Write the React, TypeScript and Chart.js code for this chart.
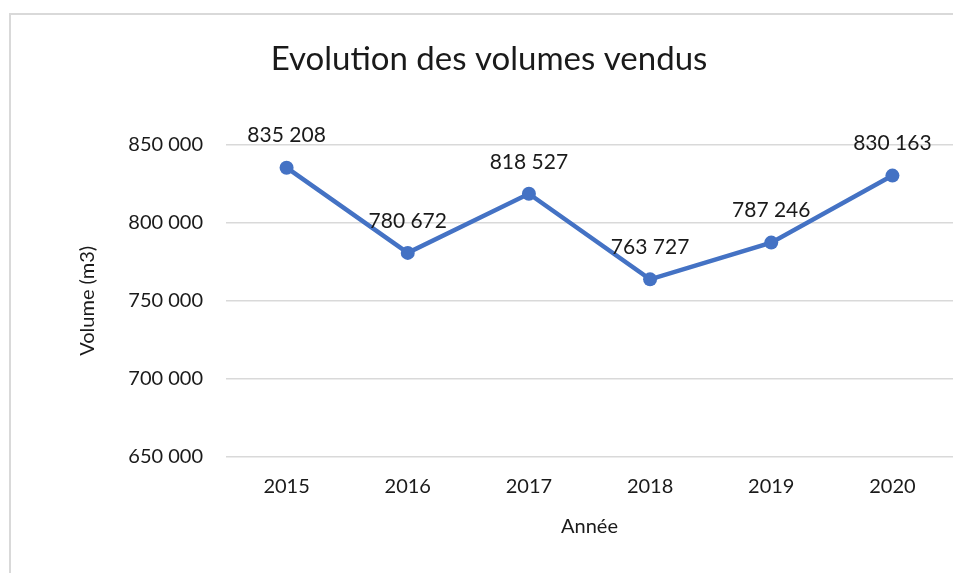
import React, { useEffect, useRef } from "react";
import { Chart, registerables } from "chart.js";

Chart.register(...registerables);

const years = ["2015", "2016", "2017", "2018", "2019", "2020"];
const volumes = [835208, 780672, 818527, 763727, 787246, 830163];
const yMin = 650000;
const yMax = 850000;
const yStep = 50000;
const titleText = "Evolution des volumes vendus";
const xTitle = "Année";
const yTitle = "Volume (m3)";

const FONT = "Lato, 'Open Sans', sans-serif";
const fmt = (v: number) => String(Math.round(v)).replace(/\B(?=(\d{3})+(?!\d))/g, " ");

const dataLabels = {
  id: "dataLabels",
  afterDatasetsDraw(chart: any) {
    const ctx = chart.ctx;
    const meta = chart.getDatasetMeta(0);
    ctx.save();
    ctx.font = `21px ${FONT}`;
    ctx.fillStyle = "#1a1a1a";
    ctx.textAlign = "center";
    ctx.textBaseline = "middle";
    meta.data.forEach((pt: any, i: number) => {
      ctx.fillText(fmt(volumes[i]), pt.x, pt.y - 32);
    });
    ctx.restore();
  },
};

export default function App() {
  const ref = useRef<HTMLCanvasElement | null>(null);
  useEffect(() => {
    if (!ref.current) return;
    const chart = new Chart(ref.current, {
      type: "line",
      data: {
        labels: years,
        datasets: [
          {
            data: volumes,
            borderColor: "#4472C4",
            backgroundColor: "#4472C4",
            borderWidth: 4.5,
            pointRadius: 7,
            pointBorderWidth: 0,
            pointBackgroundColor: "#4472C4",
            tension: 0,
          },
        ],
      },
      options: {
        responsive: false,
        animation: false,
        layout: { padding: { left: 23, right: 5, top: 0, bottom: 0 } },
        plugins: {
          legend: { display: false },
          tooltip: { enabled: false },
          title: {
            display: true,
            text: titleText,
            color: "#1a1a1a",
            font: { family: FONT, size: 33, weight: "normal" as any },
            padding: { top: 40, bottom: 65 },
          },
        },
        scales: {
          x: {
            offset: true,
            grid: { display: false, drawTicks: false },
            border: { display: false },
            afterFit: (s: any) => {
              s.height = 116;
            },
            ticks: { color: "#1a1a1a", font: { family: FONT, size: 20 }, padding: 18 },
            title: {
              display: true,
              text: xTitle,
              color: "#1a1a1a",
              font: { family: FONT, size: 20 },
              padding: { top: 16, bottom: 34 },
            },
          },
          y: {
            min: yMin,
            max: yMax,
            grid: { color: "#d9d9d9", lineWidth: 1.5, drawTicks: false },
            border: { display: false },
            afterFit: (s: any) => {
              s.width = 203;
            },
            ticks: {
              stepSize: yStep,
              color: "#1a1a1a",
              font: { family: FONT, size: 20 },
              padding: 23,
              callback: (v: any) => fmt(Number(v)),
            },
            title: {
              display: true,
              text: yTitle,
              color: "#1a1a1a",
              font: { family: FONT, size: 20 },
              padding: { top: 53, bottom: 25 },
            },
          },
        },
      },
      plugins: [dataLabels],
    });
    return () => chart.destroy();
  }, []);

  return (
    <div
      style={{
        position: "fixed",
        left: 0,
        top: 0,
        width: 953,
        height: 573,
        overflow: "hidden",
        background: "#fff",
      }}
    >
      <div
        style={{
          position: "absolute",
          left: 9,
          top: 13,
          width: 2000,
          height: 2000,
          border: "2px solid #d9d9d9",
        }}
      />
      <canvas
        ref={ref}
        width={960}
        height={573}
        style={{ position: "absolute", left: 0, top: 0, width: 960, height: 573 }}
      />
    </div>
  );
}
